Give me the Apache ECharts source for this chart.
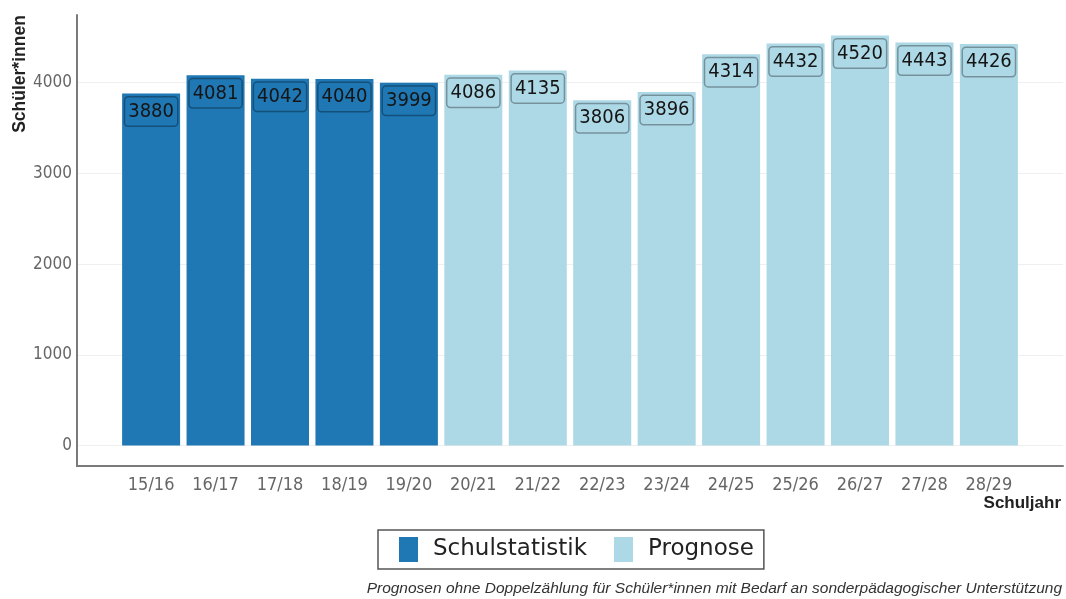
<!DOCTYPE html>
<html>
<head>
<meta charset="utf-8">
<script src="https://cdn.jsdelivr.net/npm/echarts@6/dist/echarts.min.js"></script>
<style>
  html, body { margin: 0; padding: 0; background: #ffffff; }
  #chart { width: 1066px; height: 599px; }
</style>
</head>
<body>
<div id="chart"></div>
<script>
// ---- data ----
const schuljahre = ['15/16','16/17','17/18','18/19','19/20','20/21','21/22','22/23','23/24','24/25','25/26','26/27','27/28','28/29'];
const schulstatistik = [3880, 4081, 4042, 4040, 3999];          // 15/16 .. 19/20
const prognose = [4086, 4135, 3806, 3896, 4314, 4432, 4520, 4443, 4426]; // 20/21 .. 28/29
const yTicks = [0, 1000, 2000, 3000, 4000];
const seriesNames = ['Schulstatistik', 'Prognose'];
const yTitle = 'Schüler*innen';
const xTitle = 'Schuljahr';
const caption = 'Prognosen ohne Doppelzählung für Schüler*innen mit Bedarf an sonderpädagogischer Unterstützung';

// ---- build ----
const statData = schulstatistik.map((v, i) => [i, v]);
const progData = prognose.map((v, i) => [i + schulstatistik.length, v]);
const xIdx = schuljahre.map((_, i) => i);

const DARK = '#1f77b4';
const LIGHT = '#add8e6';
const NARROW = '"DejaVu Sans Condensed", "DejaVu Sans", sans-serif';

const labelCfg = {
  show: true,
  position: 'insideTop',
  distance: 4,
  formatter: p => String(p.value[1]),
  fontFamily: NARROW,
  fontSize: 20,
  lineHeight: 20,
  color: '#151515',
  borderColor: 'rgba(0,0,0,0.32)',
  borderWidth: 1.5,
  borderRadius: 3,
  padding: [4, 3, 4, 3]
};

const chart = echarts.init(document.getElementById('chart'), null, { renderer: 'canvas' });
chart.setOption({
  animation: false,
  backgroundColor: '#ffffff',
  grid: { left: 77, right: 3, top: 15, bottom: 133, containLabel: false },
  xAxis: {
    type: 'value',
    min: -1.15,
    max: 14.15,
    axisLine: { show: true, onZero: false, lineStyle: { color: '#7a7a7a', width: 2 } },
    axisTick: { show: false, customValues: xIdx },
    splitLine: { show: false },
    axisLabel: {
      customValues: xIdx,
      formatter: v => schuljahre[Math.round(v)] || '',
      fontFamily: NARROW,
      fontSize: 18,
      color: '#666666',
      margin: 10
    }
  },
  yAxis: {
    type: 'value',
    min: -226,
    max: 4746,
    axisLine: { show: true, onZero: false, lineStyle: { color: '#7a7a7a', width: 2 } },
    axisTick: { show: false, customValues: yTicks },
    splitLine: { show: true, lineStyle: { color: '#efefef', width: 1 } },
    axisLabel: {
      customValues: yTicks,
      formatter: v => String(v),
      fontFamily: NARROW,
      fontSize: 17,
      color: '#666666',
      margin: 5
    }
  },
  legend: {
    data: seriesNames.map(n => ({ name: n, icon: 'rect' })),
    left: 378,
    top: 530,
    orient: 'horizontal',
    itemWidth: 19,
    itemHeight: 25,
    itemGap: 27,
    padding: [7, 10, 7, 21],
    borderColor: '#555',
    borderWidth: 1.5,
    textStyle: { fontFamily: '"DejaVu Sans", sans-serif', fontSize: 23, color: '#222', padding: [0, 0, 0, 10] },
    selectedMode: false
  },
  graphic: [
    {
      type: 'text',
      x: 20.5, y: 74,
      rotation: Math.PI / 2,
      style: { text: yTitle, fontFamily: '"Liberation Sans", Arial, sans-serif', fontWeight: 'bold', fontSize: 17.5, fill: '#222', align: 'center', verticalAlign: 'middle' }
    },
    {
      type: 'text',
      x: 1061, y: 503,
      style: { text: xTitle, fontFamily: '"Liberation Sans", Arial, sans-serif', fontWeight: 'bold', fontSize: 17, fill: '#222', align: 'right', verticalAlign: 'middle' }
    },
    {
      type: 'text',
      x: 1062, y: 589,
      style: { text: caption, fontFamily: '"Liberation Sans", Arial, sans-serif', fontStyle: 'italic', fontSize: 15.5, fill: '#333', align: 'right', verticalAlign: 'middle' }
    }
  ],
  series: [
    {
      name: seriesNames[0],
      type: 'bar',
      data: statData,
      barWidth: 58,
      barGap: '-100%',
      itemStyle: { color: DARK },
      label: Object.assign({ backgroundColor: DARK }, labelCfg)
    },
    {
      name: seriesNames[1],
      type: 'bar',
      data: progData,
      barWidth: 58,
      barGap: '-100%',
      itemStyle: { color: LIGHT },
      label: Object.assign({ backgroundColor: LIGHT }, labelCfg)
    }
  ]
});
</script>
</body>
</html>
